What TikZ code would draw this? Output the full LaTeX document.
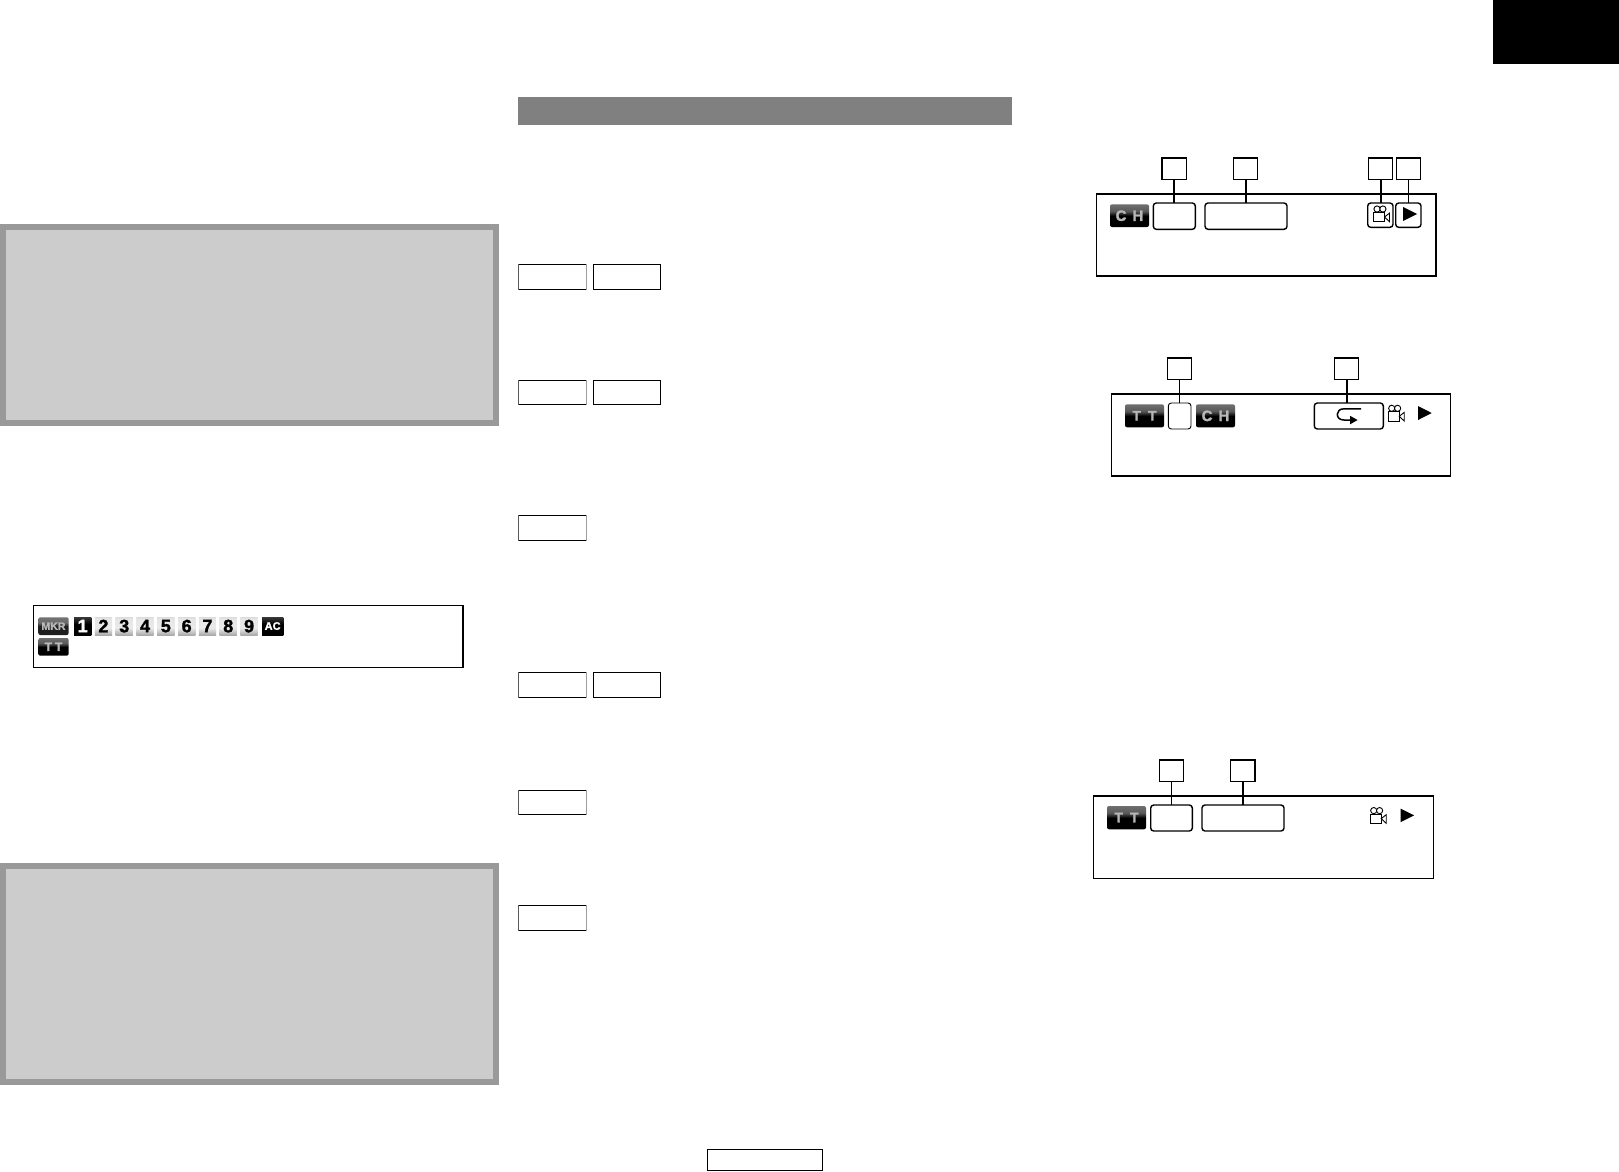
\documentclass[tikz,border=0pt]{standalone}
\usepackage{fontspec}
\setmainfont{Liberation Sans}
\newfontfamily\heavyfont[BoldFeatures={FakeBold=1.6}]{Liberation Sans}
\pgfdeclareverticalshading{badgedark}{100bp}{color(0bp)=(black); color(50bp)=(black); color(52bp)=(black!92); color(60bp)=(black!65); color(100bp)=(black!42)}
\pgfdeclareverticalshading{badgemkr}{100bp}{color(0bp)=(black!88); color(50bp)=(black!88); color(60bp)=(black!58); color(100bp)=(black!50)}
\pgfdeclareverticalshading{tilelight}{100bp}{color(0bp)=(black!55); color(20bp)=(black!40); color(45bp)=(black!8); color(70bp)=(black!10); color(100bp)=(black!32)}
\pgfdeclareverticalshading{tiledark}{100bp}{color(0bp)=(black); color(55bp)=(black); color(80bp)=(black!72); color(100bp)=(black!55)}
\tikzset{
  boxbase/.style={rectangle,inner sep=0pt,outer sep=0pt},
  panelout/.style={boxbase,fill=black!40},
  panelin/.style={boxbase,fill=black!20},
  header/.style={boxbase,fill=black!50},
  solidblack/.style={boxbase,fill=black},
  keybox/.style={boxbase,draw=black,line width=1pt,fill=white},
  frame/.style={boxbase,draw=black,line width=1.3pt,fill=white},
  tag/.style={boxbase,draw=black,line width=1.3pt,fill=white},
  field/.style={boxbase,draw=black,line width=1.4pt,fill=white,rounded corners=3pt},
  link/.style={draw=black,line width=1.6pt},
  linkthin/.style={draw=black,line width=0.9pt},
  badge/.style={boxbase,rounded corners=2pt,shading=badgedark,text=black!28,font=\heavyfont\fontsize{14}{14}\selectfont\bfseries},
  badgem/.style={boxbase,rounded corners=2pt,shading=badgemkr,text=black!28,font=\heavyfont\fontsize{10.5}{10.5}\selectfont\bfseries},
  tile/.style={boxbase,shading=tilelight,text=black,font=\heavyfont\fontsize{18}{18}\selectfont\bfseries},
  tiled/.style={boxbase,shading=tiledark,text=white,font=\heavyfont\fontsize{18}{18}\selectfont\bfseries},
  tileac/.style={boxbase,shading=tiledark,text=white,font=\heavyfont\fontsize{11}{11}\selectfont\bfseries},
  iconline/.style={draw=black,line width=0.9pt,fill=white}
}
% name, x1, y1, x2, y2, style, text
\newcommand{\bx}[7]{%
  \pgfmathsetmacro{\bxw}{#4-#2}\pgfmathsetmacro{\bxh}{#5-#3}%
  \pgfmathsetmacro{\bxx}{(#2+#4)/2}\pgfmathsetmacro{\bxy}{(#3+#5)/2}%
  \node[#6,minimum width=\bxw pt,minimum height=\bxh pt,text depth=0pt] (#1) at (\bxx,\bxy) {#7};}
\newcommand{\keyedges}[1]{%
  \draw[black!65,line width=1pt] (#1.north west) -- (#1.south west);
  \draw[black!38,line width=1pt] (#1.north east) -- (#1.south east);}
\newcommand{\camicon}[2]{%
  \begin{scope}[shift={(#1,#2)}]
    \draw[iconline] (3.7,3.3) circle (3.1);
    \draw[iconline] (9.6,3.3) circle (3.1);
    \draw[iconline] (0.4,6.7) rectangle (11.2,16);
    \draw[iconline] (11.2,11.3) -- (16.2,7.4) -- (16.2,16) -- cycle;
  \end{scope}}
\newcommand{\playicon}[4]{\fill[black] (#1,#2) -- (#3,{(#2+#4)/2}) -- (#1,#4) -- cycle;}
\begin{document}
\begin{tikzpicture}[x=1pt,y=-1pt]
\useasboundingbox (0,0) rectangle (1619,1171);
% solid blocks
\bx{tabblock}{1493}{0}{1619}{64}{solidblack}{}
\bx{headbar}{517.5}{97.3}{1012}{125}{header}{}
% grey panels
\bx{panelAo}{0}{224}{499}{426}{panelout}{}
\bx{panelAi}{6}{230}{493}{420}{panelin}{}
\bx{panelBo}{0}{863}{499}{1085}{panelout}{}
\bx{panelBi}{6}{869}{493}{1079}{panelin}{}
% key boxes
\bx{ka}{518.3}{264}{586.5}{289.7}{keybox}{}\keyedges{ka}
\bx{kb}{593.3}{264}{660.7}{289.7}{keybox}{}
\bx{kc}{518.3}{380.3}{586.5}{404.5}{keybox}{}\keyedges{kc}
\bx{kd}{593.3}{380.3}{660.7}{404.5}{keybox}{}
\bx{ke}{518.3}{515.3}{586.5}{540.7}{keybox}{}\keyedges{ke}
\bx{kf}{518.3}{672.3}{586.5}{697.7}{keybox}{}\keyedges{kf}
\bx{kg}{593.3}{672.3}{660.7}{697.7}{keybox}{}
\bx{kh}{518.3}{790.3}{586.5}{814.7}{keybox}{}\keyedges{kh}
\bx{ki}{518.3}{905.3}{586.5}{930.7}{keybox}{}\keyedges{ki}
\bx{kj}{707.5}{1149.5}{822.7}{1170.3}{keybox}{}
% marker panel
\bx{mkframe}{33.5}{605.5}{463}{667.7}{frame,line width=1.5pt}{}
\bx{mkr}{38.3}{617.3}{68.7}{635}{badgem}{MKR}
\bx{mk1}{74}{617}{91.3}{635}{tiled}{1}
\bx{mk2}{94.8}{617}{112.1}{635}{tile}{2}
\bx{mk3}{115.6}{617}{132.9}{635}{tile}{3}
\bx{mk4}{136.4}{617}{153.7}{635}{tile}{4}
\bx{mk5}{157.2}{617}{174.5}{635}{tile}{5}
\bx{mk6}{178}{617}{195.3}{635}{tile}{6}
\bx{mk7}{198.8}{617}{216.1}{635}{tile}{7}
\bx{mk8}{219.6}{617}{236.9}{635}{tile}{8}
\bx{mk9}{240.4}{617}{257.7}{635}{tile}{9}
\bx{mkac}{262}{617}{283.3}{635}{tileac}{AC}
\bx{mktt}{38.3}{638}{68.7}{655.7}{badge,font=\heavyfont\fontsize{12}{12}\selectfont\bfseries}{T\hspace{3pt}T}
% display 1
\bx{fa}{1096.7}{194}{1436}{276}{frame}{}
\bx{faS}{1162}{158}{1186.3}{179.7}{tag}{}
\bx{fbS}{1233.7}{158}{1257.7}{179.7}{tag}{}
\bx{fcS}{1368.7}{158}{1392.7}{179.7}{tag}{}
\bx{fdS}{1396.7}{158}{1420.3}{179.7}{tag}{}
\bx{fach}{1110}{204.3}{1149}{227}{badge,font=\heavyfont\fontsize{15}{15}\selectfont\bfseries}{C\hspace{6pt}H}
\bx{faB}{1153.3}{203}{1195.3}{229.3}{field}{}
\bx{fbB}{1205}{203}{1287}{229.3}{field}{}
\bx{fcB}{1367.7}{203}{1393}{227.3}{field}{}
\bx{fdB}{1395.7}{203}{1421}{227.3}{field}{}
\draw[link] (faS.south) -- (faS.south |- faB.north);
\draw[link] (fbS.south) -- (fbS.south |- fbB.north);
\draw[link] (fcS.south) -- (fcS.south |- fcB.north);
\draw[link] (fdS.south) -- (fdS.south |- fdB.north);
\camicon{1373.3}{205.7}
\playicon{1403}{207}{1417}{221}
% display 2
\bx{ga}{1111.7}{394}{1450.3}{476}{frame}{}
\bx{gaS}{1167.7}{358}{1191.7}{379.3}{tag}{}
\bx{gbS}{1334.7}{358}{1358.7}{379.3}{tag}{}
\bx{gtt}{1125}{404.3}{1164}{427.3}{badge}{T\hspace{7pt}T}
\bx{gaB}{1168.3}{403}{1191}{429}{field,line width=0.9pt}{}
\bx{gch}{1196}{404.3}{1235}{427.3}{badge,font=\heavyfont\fontsize{15}{15}\selectfont\bfseries}{C\hspace{6pt}H}
\bx{gbB}{1314.3}{403}{1383.3}{429}{field}{}
\draw[linkthin] (gaS.south) -- (gaS.south |- gaB.north);
\draw[link] (gbS.south) -- (gbS.south |- gbB.north);
\draw[black,line width=1.5pt] (1361,408.8) -- (1344,408.8) .. controls (1339.5,408.8) and (1337.3,411.5) .. (1337.3,414.3) .. controls (1337.3,417.5) and (1339.5,420) .. (1344,420) -- (1352,420);
\fill[black] (1350,415.8) -- (1357.6,420) -- (1350,424.3) -- cycle;
\camicon{1388}{405}
\playicon{1418}{406}{1431.7}{420}
% display 3
\bx{ha}{1093.7}{796}{1433.3}{878.3}{frame}{}
\bx{haS}{1159.3}{760}{1183.7}{781.7}{tag}{}
\bx{hbS}{1230.7}{760}{1255}{781.7}{tag}{}
\bx{htt}{1107}{806}{1146}{829.3}{badge}{T\hspace{7pt}T}
\bx{haB}{1150.7}{805}{1192.3}{831}{field}{}
\bx{hbB}{1202}{805}{1284}{831}{field}{}
\draw[link] (haS.south) -- (haS.south |- haB.north);
\draw[link] (hbS.south) -- (hbS.south |- hbB.north);
\camicon{1370}{807.3}
\playicon{1400.7}{808.7}{1414}{822}
\end{tikzpicture}
\end{document}
